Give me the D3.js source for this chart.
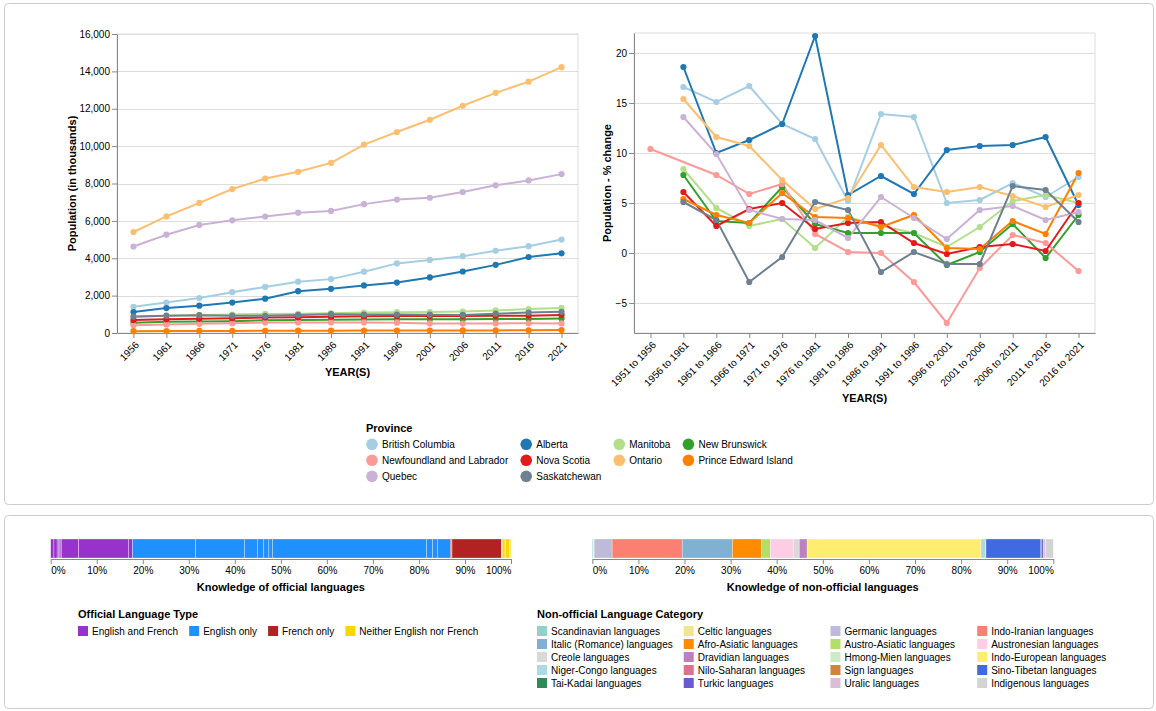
<!DOCTYPE html>
<html>
<head>
<meta charset="utf-8">
<script src="https://cdn.jsdelivr.net/npm/d3@7"></script>
<style>
  body { margin: 0; background: #fff; }
</style>
</head>
<body>
<script>
// provinces in legend / colour order
const provinces = ["British Columbia", "Alberta", "Manitoba", "New Brunswick", "Newfoundland and Labrador",
  "Nova Scotia", "Ontario", "Prince Edward Island", "Quebec", "Saskatchewan"];
const provinceColors = ["#a6cee3", "#1f78b4", "#b2df8a", "#33a02c", "#fb9a99",
  "#e31a1c", "#fdbf6f", "#ff7f00", "#cab2d6", "#6f8090"];

// population, thousands
const censusYears = ["1956", "1961", "1966", "1971", "1976", "1981", "1986", "1991", "1996", "2001", "2006", "2011", "2016", "2021"];
const popBritishColumbia = [1399, 1629, 1874, 2185, 2467, 2745, 2883, 3282, 3725, 3908, 4113, 4400, 4648, 5000];
const popAlberta = [1123, 1332, 1463, 1628, 1838, 2238, 2366, 2546, 2697, 2975, 3291, 3646, 4067, 4262];
const popManitoba = [851, 922, 963, 988, 1022, 1026, 1063, 1092, 1114, 1120, 1148, 1208, 1278, 1343];
const popNewBrunswick = [555, 598, 617, 635, 677, 696, 710, 724, 738, 730, 730, 751, 747, 776];
const popNewfoundland = [415, 458, 493, 522, 558, 568, 568, 568, 552, 513, 506, 515, 520, 511];
const popNovaScotia = [695, 737, 756, 789, 829, 847, 873, 900, 909, 908, 914, 921, 924, 969];
const popOntario = [5405, 6236, 6961, 7703, 8264, 8625, 9102, 10085, 10754, 11410, 12160, 12851, 13448, 14223];
const popPEI = [99, 105, 109, 112, 118, 123, 127, 130, 135, 135, 136, 140, 143, 155];
const popQuebec = [4628, 5259, 5781, 6028, 6234, 6438, 6532, 6896, 7139, 7237, 7546, 7903, 8164, 8502];
const popSaskatchewan = [881, 925, 955, 926, 921, 968, 1010, 989, 991, 979, 968, 1033, 1098, 1132];
const popTicks = [0, 2000, 4000, 6000, 8000, 10000, 12000, 14000, 16000];

// % change per period
const periods = ["1951 to 1956", "1956 to 1961", "1961 to 1966", "1966 to 1971", "1971 to 1976", "1976 to 1981", "1981 to 1986",
  "1986 to 1991", "1991 to 1996", "1996 to 2001", "2001 to 2006", "2006 to 2011", "2011 to 2016", "2016 to 2021"];
const chgBritishColumbia = [null, 16.6, 15.1, 16.7, 12.9, 11.4, 5.2, 13.9, 13.6, 5.0, 5.3, 7.0, 5.6, 7.6];
const chgAlberta = [null, 18.6, 10.0, 11.3, 12.9, 21.7, 5.8, 7.7, 5.9, 10.3, 10.7, 10.8, 11.6, 4.8];
const chgManitoba = [null, 8.4, 4.5, 2.7, 3.4, 0.5, 3.6, 2.7, 2.0, 0.6, 2.6, 5.2, 5.8, 5.0];
const chgNewBrunswick = [null, 7.8, 3.2, 3.0, 6.6, 2.9, 2.0, 2.0, 2.0, -1.2, 0.1, 2.9, -0.5, 3.8];
const chgNewfoundland = [10.4, null, 7.8, 5.9, 6.9, 1.9, 0.1, 0.0, -2.9, -7.0, -1.5, 1.8, 1.0, -1.8];
const chgNovaScotia = [null, 6.1, 2.7, 4.4, 5.0, 2.4, 3.0, 3.1, 1.0, -0.1, 0.6, 0.9, 0.2, 5.0];
const chgOntario = [null, 15.4, 11.6, 10.7, 7.3, 4.4, 5.5, 10.8, 6.6, 6.1, 6.6, 5.7, 4.6, 5.8];
const chgPEI = [null, 5.4, 3.8, 3.0, 6.0, 3.6, 3.5, 2.6, 3.8, 0.5, 0.4, 3.2, 1.9, 8.0];
const chgQuebec = [null, 13.6, 9.9, 4.3, 3.4, 3.3, 1.5, 5.6, 3.5, 1.4, 4.3, 4.7, 3.3, 4.1];
const chgSaskatchewan = [null, 5.1, 3.3, -2.9, -0.4, 5.1, 4.3, -1.9, 0.1, -1.1, -1.1, 6.7, 6.3, 3.1];
const chgTicks = [-5, 0, 5, 10, 15, 20];

// knowledge of official languages, % of total, per province (alphabetical)
const officialTypes = ["English and French", "English only", "French only", "Neither English nor French"];
const officialColors = ["#9932cc", "#1e90ff", "#b22222", "#ffd700"];
const offEnglishFrench = [0.70, 0.70, 0.28, 0.32, 0.06, 0.25, 3.69, 0.05, 10.85, 0.90];
const offEnglishOnly = [13.7, 10.6, 2.8, 1.4, 1.1, 0.8, 33.5, 1.3, 1.1, 2.7];
const offFrenchOnly = [0.02, 0.02, 0.01, 0.21, 0.0, 0.01, 0.12, 0.0, 10.7, 0.01];
const offNeither = [0.25, 0.55, 0.08, 0.01, 0.0, 0.02, 0.9, 0.01, 0.25, 0.03];

// knowledge of non-official languages, % of total
const nonOfficialCats = ["Scandinavian languages", "Celtic languages", "Germanic languages", "Indo-Iranian languages",
  "Italic (Romance) languages", "Afro-Asiatic languages", "Austro-Asiatic languages", "Austronesian languages",
  "Creole languages", "Dravidian languages", "Hmong-Mien languages", "Indo-European languages",
  "Niger-Congo languages", "Nilo-Saharan languages", "Sign languages", "Sino-Tibetan languages",
  "Tai-Kadai languages", "Turkic languages", "Uralic languages", "Indigenous languages"];
const nonOfficialShares = [0.2, 0.2, 3.9, 15.2, 10.9, 6.3, 1.9, 5.0, 1.3, 1.7, 0.05, 37.65,
  1.0, 0.05, 0.05, 11.9, 0.1, 0.4, 0.5, 1.7];
const nonOfficialColors = ["#8dd3c7", "#f0e68c", "#bebada", "#fb8072", "#80b1d3", "#ff8c00", "#b3de69", "#fccde5",
  "#d9d9d9", "#bc80bd", "#ccebc5", "#ffed6f", "#add8e6", "#db7093", "#cd853f", "#4169e1",
  "#2e8b57", "#6a5acd", "#d8bfd8", "#d3d3d3"];

const FONT = '"Liberation Sans", Arial, Helvetica, sans-serif';

const popSeries = [popBritishColumbia, popAlberta, popManitoba, popNewBrunswick, popNewfoundland,
  popNovaScotia, popOntario, popPEI, popQuebec, popSaskatchewan]
  .map((vals, i) => ({ name: provinces[i], color: provinceColors[i], values: vals }));
const chgSeries = [chgBritishColumbia, chgAlberta, chgManitoba, chgNewBrunswick, chgNewfoundland,
  chgNovaScotia, chgOntario, chgPEI, chgQuebec, chgSaskatchewan]
  .map((vals, i) => ({ name: provinces[i], color: provinceColors[i], values: vals }));

const svg = d3.select("body").append("svg")
  .attr("width", 1156).attr("height", 711)
  .style("font-family", FONT);

// the two cards
svg.append("rect").attr("x", 4.5).attr("y", 3.5).attr("width", 1149).attr("height", 501)
  .attr("rx", 4).attr("fill", "#fff").attr("stroke", "#ccc");
svg.append("rect").attr("x", 4.5).attr("y", 515.5).attr("width", 1149).attr("height", 193)
  .attr("rx", 4).attr("fill", "#fff").attr("stroke", "#ccc");

function styleAxis(g) {
  g.attr("font-family", null).attr("font-size", null);
  g.selectAll(".domain, .tick line").attr("stroke", "#888");
  g.selectAll("text").attr("fill", "#000").style("font-size", "10px").style("font-family", FONT);
}

function lineChart(o) {
  const g = svg.append("g");
  const x = d3.scalePoint().domain(o.xDomain).range([o.left, o.right]).padding(0.5);
  const y = d3.scaleLinear().domain(o.yDomain).range([o.bottom, o.top]);

  g.append("g").selectAll("line").data(o.yTicks).join("line")
    .attr("x1", o.left).attr("x2", o.right)
    .attr("y1", d => Math.round(y(d)) + 0.5).attr("y2", d => Math.round(y(d)) + 0.5)
    .attr("stroke", "#ddd");
  g.append("rect").attr("x", o.left).attr("y", o.top).attr("width", o.right - o.left)
    .attr("height", o.bottom - o.top).attr("fill", "none").attr("stroke", "#ddd");

  const yAxis = g.append("g").attr("transform", `translate(${o.left},0)`)
    .call(d3.axisLeft(y).tickValues(o.yTicks).tickSize(5).tickSizeOuter(0).tickPadding(2).tickFormat(o.yFormat));
  styleAxis(yAxis);

  const xAxis = g.append("g").attr("transform", `translate(0,${o.bottom})`)
    .call(d3.axisBottom(x).tickSize(5).tickSizeOuter(0));
  styleAxis(xAxis);
  xAxis.selectAll(".tick text")
    .attr("x", 0).attr("y", 0).attr("dy", "0.8em")
    .attr("transform", "translate(0,7) rotate(-45)")
    .style("text-anchor", "end");

  const line = d3.line().x(d => x(d.k)).y(d => y(d.v));
  const pts = o.series.map(s => ({
    s, p: s.values.map((v, i) => ({ k: o.xDomain[i], v })).filter(d => d.v !== null)
  }));
  g.append("g").selectAll("path").data(pts).join("path")
    .attr("d", d => line(d.p)).attr("fill", "none")
    .attr("stroke", d => d.s.color).attr("stroke-width", 2);
  g.append("g").selectAll("g").data(pts).join("g")
    .attr("fill", d => d.s.color)
    .selectAll("circle").data(d => d.p).join("circle")
    .attr("cx", d => x(d.k)).attr("cy", d => y(d.v)).attr("r", 3.1);

  g.append("text").attr("transform", `translate(${o.yTitleX},${(o.top + o.bottom) / 2}) rotate(-90)`)
    .attr("text-anchor", "middle").attr("dy", "0.35em")
    .style("font-size", "11px").style("font-weight", "bold").text(o.yTitle);
  g.append("text").attr("x", (o.left + o.right) / 2).attr("y", o.xTitleY)
    .attr("text-anchor", "middle").attr("dy", "0.35em")
    .style("font-size", "11px").style("font-weight", "bold").text("YEAR(S)");
}

lineChart({
  left: 117, right: 578, top: 34, bottom: 333,
  xDomain: censusYears, yDomain: [0, 16000], yTicks: popTicks, yFormat: d3.format(","),
  series: popSeries, yTitle: "Population (in thousands)", yTitleX: 72, xTitleY: 372
});
lineChart({
  left: 634, right: 1095, top: 33, bottom: 333,
  xDomain: periods, yDomain: [-8, 22], yTicks: chgTicks, yFormat: d3.format("d"),
  series: chgSeries, yTitle: "Population - % change", yTitleX: 607, xTitleY: 398
});

function legend(o) {
  const g = svg.append("g");
  g.append("text").attr("x", o.x).attr("y", o.titleY).attr("dy", "0.35em")
    .style("font-size", "11px").style("font-weight", "bold").text(o.title);
  const half = o.shape === "circle" ? 6 : 5;
  const labels = g.selectAll("text.lbl").data(o.items).join("text").attr("class", "lbl")
    .style("font-size", "10px").attr("dy", "0.35em").attr("fill", "#000").text(d => d.label);
  const widths = labels.nodes().map(n => n.getComputedTextLength());
  // per-column widths, or one shared width when the grid is uniform
  const colW = d3.range(o.columns).map(c => o.uniform ? d3.max(widths)
    : d3.max(widths.filter((w, i) => i % o.columns === c)) || 0);
  const colX = [o.x + half];
  for (let c = 1; c < o.columns; c++) colX.push(colX[c - 1] + half + 4 + colW[c - 1] + o.pad + half);
  const cx = (d, i) => colX[i % o.columns];
  const cy = (d, i) => o.rowY + Math.floor(i / o.columns) * o.rowStep;
  labels.attr("x", (d, i) => cx(d, i) + half + 4).attr("y", cy);
  if (o.shape === "circle") {
    g.selectAll("circle").data(o.items).join("circle")
      .attr("cx", cx).attr("cy", cy).attr("r", 5.8).attr("fill", d => d.color);
  } else {
    g.selectAll("rect").data(o.items).join("rect")
      .attr("x", (d, i) => cx(d, i) - 5).attr("y", (d, i) => cy(d, i) - 5)
      .attr("width", 10).attr("height", 10).attr("fill", d => d.color);
  }
}

legend({
  title: "Province", x: 366, titleY: 428, rowY: 444.3, rowStep: 16, columns: 4, pad: 12, shape: "circle",
  items: provinces.map((p, i) => ({ label: p, color: provinceColors[i] }))
});

function stackBar(o) {
  const g = svg.append("g");
  const total = d3.sum(o.segs, d => d.value);
  const x = d3.scaleLinear().domain([0, total]).range([o.left, o.right]);
  const ends = d3.cumsum(o.segs, d => d.value);
  g.selectAll("rect").data(o.segs).join("rect")
    .attr("x", (d, i) => x(ends[i] - d.value)).attr("width", d => Math.max(0, x(d.value) - x(0)))
    .attr("y", o.top).attr("height", o.height)
    .attr("fill", d => d.color).attr("stroke", "#fff").attr("stroke-width", 0.5).attr("stroke-opacity", 0.6);
  const ticks = d3.range(0, 11).map(i => total * i / 10);
  const axis = g.append("g").attr("transform", `translate(0,${o.top + o.height + 1})`)
    .call(d3.axisBottom(x).tickValues(ticks).tickSize(5).tickSizeOuter(0).tickPadding(3)
      .tickFormat(d => d3.format(".0%")(d / total)));
  styleAxis(axis);
  axis.selectAll(".tick text")
    .style("text-anchor", (d, i) => i === 0 ? "start" : i === 10 ? "end" : "middle");
  g.append("text").attr("x", (o.left + o.right) / 2).attr("y", o.titleY)
    .attr("text-anchor", "middle").attr("dy", "0.35em")
    .style("font-size", "11px").style("font-weight", "bold").text(o.title);
}

const officialSegs = [offEnglishFrench, offEnglishOnly, offFrenchOnly, offNeither]
  .flatMap((vals, t) => vals.map(v => ({ value: v, color: officialColors[t] })));
stackBar({ left: 50.7, right: 511, top: 539, height: 19, segs: officialSegs,
  title: "Knowledge of official languages", titleY: 587 });
stackBar({ left: 592.3, right: 1053.3, top: 539, height: 19,
  segs: nonOfficialShares.map((v, i) => ({ value: v, color: nonOfficialColors[i] })),
  title: "Knowledge of non-official languages", titleY: 587 });

legend({
  title: "Official Language Type", x: 78, titleY: 614, rowY: 631, rowStep: 13, columns: 4, pad: 11, shape: "square",
  items: officialTypes.map((t, i) => ({ label: t, color: officialColors[i] }))
});
legend({
  title: "Non-official Language Category", x: 537, titleY: 614, rowY: 631, rowStep: 13, columns: 4, pad: 11,
  shape: "square", uniform: true,
  items: nonOfficialCats.map((t, i) => ({ label: t, color: nonOfficialColors[i] }))
});
</script>
</body>
</html>
